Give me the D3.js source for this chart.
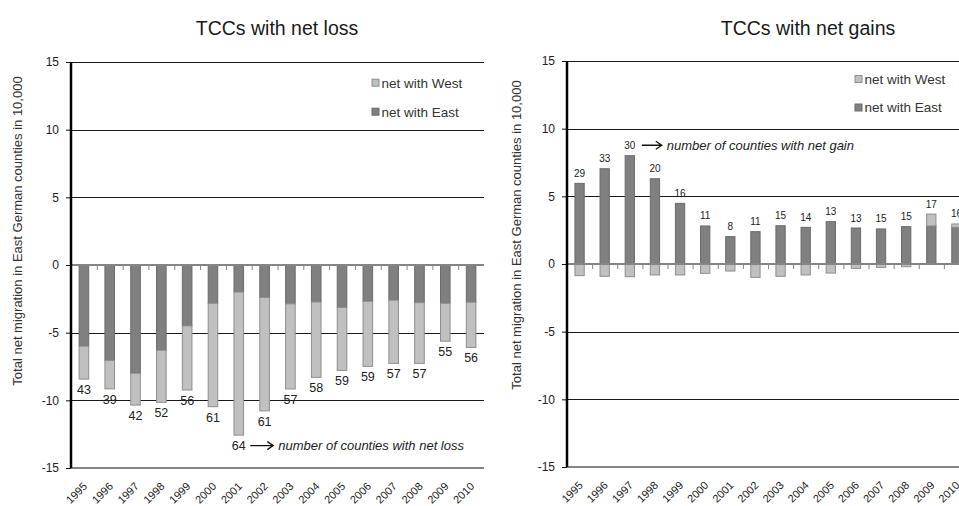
<!DOCTYPE html>
<html><head><meta charset="utf-8">
<script src="https://cdn.jsdelivr.net/npm/d3@7/dist/d3.min.js"></script>
<style>
body{margin:0;background:#fff}
svg{display:block}
text{font-family:"Liberation Sans",Arial,sans-serif;fill:#222}
</style>
</head><body>
<svg id="c" width="959" height="506"></svg>
<script>
// ---- data (values in 10,000 persons) ----
const years = ["1995","1996","1997","1998","1999","2000","2001","2002","2003","2004","2005","2006","2007","2008","2009","2010"];
const yTicks = [-15,-10,-5,0,5,10,15];
// counties with net loss
const lossEast  = [-6.0,-7.05,-8.0,-6.3,-4.5,-2.83,-2.0,-2.4,-2.87,-2.73,-3.14,-2.68,-2.6,-2.78,-2.83,-2.75];
const lossWest  = [-2.43,-2.1,-2.35,-3.85,-4.74,-7.64,-10.57,-8.38,-6.29,-5.57,-4.65,-4.81,-4.67,-4.49,-2.8,-3.34];
const lossCount = [43,39,42,52,56,61,64,61,57,58,59,59,57,57,55,56];
// counties with net gains
const gainEast  = [5.96,7.04,8.0,6.3,4.48,2.81,2.02,2.39,2.83,2.71,3.13,2.66,2.59,2.76,2.81,2.71];
const gainWest  = [-0.86,-0.91,-0.94,-0.81,-0.81,-0.69,-0.52,-0.99,-0.91,-0.81,-0.67,-0.32,-0.25,-0.2,0.88,0.25];
const gainCount = [29,33,30,20,16,11,8,11,15,14,13,13,15,15,17,16];
const seriesNames = {west:"net with West", east:"net with East"};
const colors = {east:"#808080", west:"#c0c0c0"};
const strokes = {east:"#6b6b6b", west:"#8e8e8e"};

const svg = d3.select("#c");

function panel(o){
  const data = years.map((yr,i)=>({year:yr, east:o.east[i], west:o.west[i], count:o.count[i]}));
  const layers = d3.stack().keys(["east","west"]).offset(d3.stackOffsetDiverging)(data);
  const x = d3.scaleBand().domain(years).range(o.xr).paddingInner(0.59).paddingOuter(0.295);
  const y = d3.scaleLinear().domain([-15,15]).range(o.yr);
  const step = x.step();
  const g = svg.append("g");

  // title
  g.append("text").attr("x", o.titleX).attr("y", 35).attr("text-anchor","middle")
    .style("font-size","19.5px").style("fill","#1a1a1a").text(o.title);

  // grid lines
  g.selectAll("line.grid").data(yTicks.filter(v=>v!==0 && v!==-15)).join("line")
    .attr("x1", o.xr[0]).attr("x2", o.xr[1])
    .attr("y1", d=>Math.round(y(d))+0.5).attr("y2", d=>Math.round(y(d))+0.5)
    .attr("stroke","#1a1a1a").attr("stroke-width",1);
  // bottom line
  g.append("line").attr("x1", o.xr[0]).attr("x2", o.xr[1])
    .attr("y1", y(-15)).attr("y2", y(-15)).attr("stroke","#858585").attr("stroke-width",2);

  // bars
  layers.forEach(layer=>{
    g.append("g").selectAll("rect").data(layer).join("rect")
      .attr("x", d=>x(d.data.year)+0.5)
      .attr("width", x.bandwidth()-1)
      .attr("y", d=>y(Math.max(d[0],d[1])))
      .attr("height", d=>Math.abs(y(d[0])-y(d[1])))
      .attr("fill", colors[layer.key]).attr("stroke", strokes[layer.key]).attr("stroke-width",1);
  });

  // zero line with ticks (category axis)
  g.append("line").attr("x1", o.xr[0]).attr("x2", o.xr[1])
    .attr("y1", y(0)).attr("y2", y(0)).attr("stroke","#858585").attr("stroke-width",2);
  g.selectAll("line.ct").data(years.slice(1)).join("line")
    .attr("x1", d=>x(d)-step*0.295+0.5).attr("x2", d=>x(d)-step*0.295+0.5)
    .attr("y1", y(0)).attr("y2", y(0)+5).attr("stroke","#858585").attr("stroke-width",1);

  // x labels via axis
  const xa = g.append("g").attr("transform", `translate(0,${o.yr[0]})`)
    .call(d3.axisBottom(x).tickSize(0));
  xa.select(".domain").remove();
  xa.selectAll("text").attr("text-anchor","end").attr("y",0).attr("dy",0)
    .attr("transform","translate(4,19) rotate(-45)")
    .style("font-size","11px").style("font-family","'Liberation Sans',Arial,sans-serif").style("fill","#222");

  // y axis
  const ya = g.append("g").attr("transform", `translate(${o.xr[0]},0)`)
    .call(d3.axisLeft(y).tickValues(yTicks).tickFormat(d=>String(d)).tickSize(5).tickPadding(7));
  ya.select(".domain").remove();
  ya.selectAll("line").attr("stroke","#111");
  ya.selectAll("text").style("font-size","12px").style("font-family","'Liberation Sans',Arial,sans-serif").style("fill","#222");
  g.append("line").attr("x1", o.xr[0]).attr("x2", o.xr[0])
    .attr("y1", o.yr[1]).attr("y2", o.yr[0]).attr("stroke","#000").attr("stroke-width",2.5);

  // y title
  g.append("text").attr("transform", `translate(${o.ytX},${o.ytY}) rotate(-90)`)
    .attr("text-anchor","middle").attr("dy","0.35em").style("font-size","13px").style("fill","#333")
    .text("Total net migration in East German counties in 10,000");

  // count labels
  g.selectAll("text.cnt").data(data).join("text")
    .attr("x", d=>x(d.year)+x.bandwidth()/2)
    .attr("y", d=> o.neg
        ? y(Math.min(0,d.east)+Math.min(0,d.west)) + 15
        : y(Math.max(0,d.east)+Math.max(0,d.west)) - 6.5)
    .attr("text-anchor","middle").style("font-size", o.cntSize).style("fill","#222")
    .text(d=>d.count);

  // annotation
  const ad = data.find(d=>d.year===o.annYear);
  const cx = x(ad.year)+x.bandwidth()/2;
  const ay = o.neg ? y(ad.east+ad.west)+10.5 : y(ad.east)-10.5;
  g.append("path").attr("d", `M${cx+o.arrow[0]},${ay}H${cx+o.arrow[1]}M${cx+o.arrow[1]-6},${ay-4}L${cx+o.arrow[1]},${ay}L${cx+o.arrow[1]-6},${ay+4}`)
    .attr("fill","none").attr("stroke","#111").attr("stroke-width",1.3);
  g.append("text").attr("x", cx+o.arrow[1]+5).attr("y", ay).attr("dy","0.35em")
    .style("font-size","13px").style("font-style","italic").style("fill","#222").text(o.ann);

  // legend
  const lg = g.append("g");
  ["west","east"].forEach((k,i)=>{
    const cy = o.legY[i];
    lg.append("rect").attr("x", o.legX).attr("y", cy-3.5).attr("width",7).attr("height",7)
      .attr("fill", colors[k]).attr("stroke", strokes[k]).attr("stroke-width",1);
    lg.append("text").attr("x", o.legX+9.5).attr("y", cy).attr("dy","0.36em")
      .style("font-size","13.5px").style("fill","#333").text(seriesNames[k]);
  });
}

panel({east:lossEast, west:lossWest, count:lossCount, xr:[71,484], yr:[468,62], title:"TCCs with net loss", titleX:277,
  ytX:17, ytY:231, neg:true, cntSize:"12.5px", annYear:"2001", arrow:[11.5,34.5], ann:"number of counties with net loss",
  legX:372, legY:[82.7,111.7]});
panel({east:gainEast, west:gainWest, count:gainCount, xr:[567,969], yr:[467,61], title:"TCCs with net gains", titleX:808,
  ytX:516, ytY:235, neg:false, cntSize:"10px", annYear:"1997", arrow:[12,32], ann:"number of counties with net gain",
  legX:855, legY:[79,107.5]});
</script>
</body></html>
